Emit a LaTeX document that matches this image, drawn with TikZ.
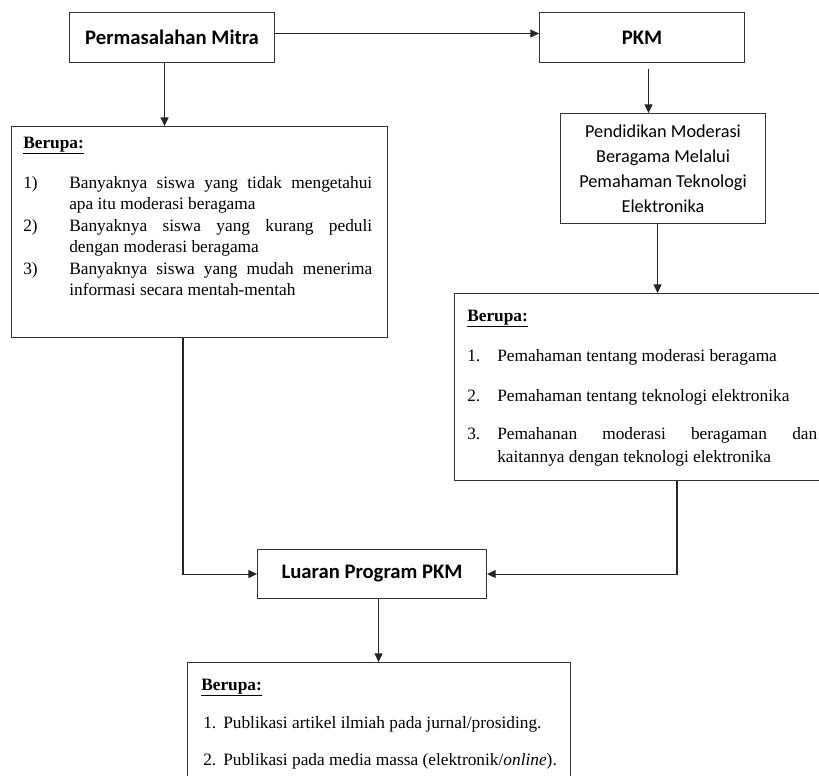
\documentclass[tikz,border=0pt]{standalone}
\usepackage{fontspec}
\setmainfont{Liberation Serif}
\newfontfamily\calfont{Carlito}
\usetikzlibrary{arrows.meta,calc}
\begin{document}
\begin{tikzpicture}[x=0.75pt,y=-0.75pt,
  box/.style={draw=black!80, line width=0.8pt, inner sep=0pt, anchor=north west},
  arr/.style={draw=black!85, line width=0.8pt, -{Triangle[length=6.5pt,width=6pt]}},
  head/.style={font=\calfont\bfseries\fontsize{15.5}{18}\selectfont},
  txt/.style={anchor=base west, inner sep=0pt, font=\fontsize{13}{15}\selectfont},
]
\useasboundingbox (0,0) rectangle (819,776);
\clip (0,0) rectangle (819,776);
% boxes
\node[box, minimum width=205*0.75pt, minimum height=50*0.75pt, head] (A) at (69,12) {Permasalahan Mitra};
\node[box, minimum width=205*0.75pt, minimum height=50*0.75pt, head] (B) at (539,12) {PKM};
\node[box, minimum width=376*0.75pt, minimum height=211*0.75pt] (C) at (11,126) {};
\node[box, minimum width=205*0.75pt, minimum height=110*0.75pt, align=center, font=\calfont\fontsize{13.7}{18.75}\selectfont] (D) at (560,113) {Pendidikan Moderasi\\Beragama Melalui\\Pemahaman Teknologi\\Elektronika};
\node[box, minimum width=381*0.75pt, minimum height=187*0.75pt] (E) at (454,293) {};
\node[box, minimum width=229*0.75pt, minimum height=49*0.75pt, head] (F) at (257,549) {Luaran Program PKM};
\node[box, minimum width=383*0.75pt, minimum height=140*0.75pt] (G) at (187,662) {};
% left list
\node[txt] (c0) at (23,148) {\underline{\textbf{Berupa:}}};
\node[txt] (c1n) at (23,188) {1)};
\node[txt] (c1a) at (69,188) {\makebox[227.25pt][s]{Banyaknya siswa yang tidak mengetahui}};
\node[txt] (c1b) at (69,209.5) {apa itu moderasi beragama};
\node[txt] (c2n) at (23,231) {2)};
\node[txt] (c2a) at (69,231) {\makebox[227.25pt][s]{Banyaknya siswa yang kurang peduli}};
\node[txt] (c2b) at (69,252.5) {dengan moderasi beragama};
\node[txt] (c3n) at (23,274) {3)};
\node[txt] (c3a) at (69,274) {\makebox[227.25pt][s]{Banyaknya siswa yang mudah menerima}};
\node[txt] (c3b) at (69,295.5) {informasi secara mentah-mentah};
% right list
\node[txt] (e0) at (467,321) {\underline{\textbf{Berupa:}}};
\node[txt] (e1n) at (467,361) {1.};
\node[txt] (e1t) at (497,361) {Pemahaman tentang moderasi beragama};
\node[txt] (e2n) at (467,401) {2.};
\node[txt] (e2t) at (497,401) {Pemahaman tentang teknologi elektronika};
\node[txt] (e3n) at (467,439) {3.};
\node[txt] (e3a) at (497,439) {\makebox[240pt][s]{Pemahanan moderasi beragaman dan}};
\node[txt] (e3b) at (497,462) {kaitannya dengan teknologi elektronika};
% bottom list
\node[txt] (g0) at (201,690) {\underline{\textbf{Berupa:}}};
\node[txt] (g1n) at (203,728) {1.};
\node[txt] (g1t) at (223,728) {Publikasi artikel ilmiah pada jurnal/prosiding.};
\node[txt] (g2n) at (203,765) {2.};
\node[txt] (g2t) at (223,765) {Publikasi pada media massa (elektronik/\textit{online}).};
% connectors
\draw[arr] ([yshift=3pt]A.east) -- ([yshift=3pt]A.east -| B.west);
\coordinate (pA) at ($(A.south)+(-7.5,0)$);
\draw[arr] (pA) -- (pA |- C.north);
\coordinate (pB) at ($(B.south)+(6.5,6)$);
\draw[arr] (pB) -- (pB |- D.north);
\coordinate (pD) at ($(D.south)+(-5.5,0)$);
\draw[arr] (pD) -- (pD |- E.north);
\coordinate (pC) at ($(C.south west)+(172,0)$);
\draw[arr] (pC) |- (F.west);
\coordinate (pE) at ($(E.south west)+(223,0)$);
\draw[arr] (pE) |- (F.east);
\coordinate (pF) at ($(F.south)+(6.5,0)$);
\draw[arr] (pF) -- (pF |- G.north);
\end{tikzpicture}
\end{document}
